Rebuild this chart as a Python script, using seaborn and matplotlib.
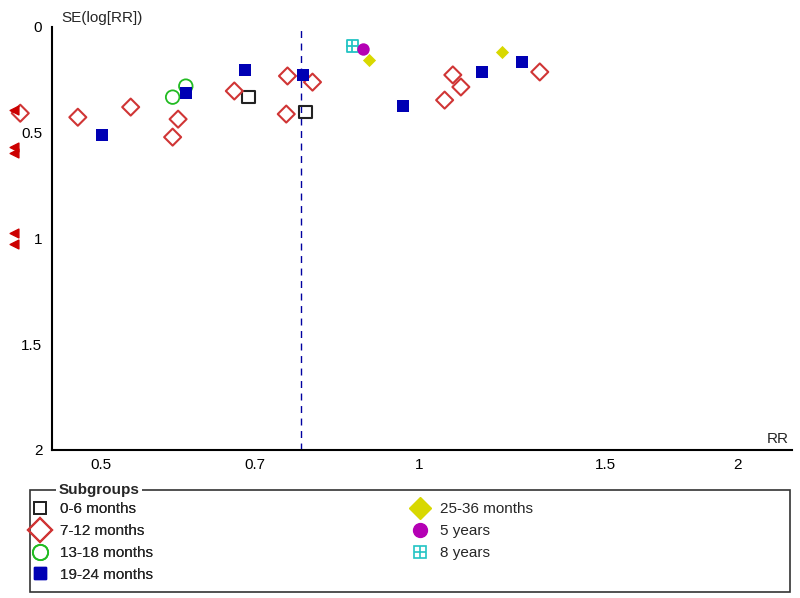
import matplotlib
matplotlib.use("Agg")
import matplotlib.pyplot as plt
import matplotlib.transforms as mtransforms
from matplotlib.lines import Line2D
from matplotlib.patches import Rectangle
from matplotlib.legend_handler import HandlerTuple
import seaborn as sns

# Datos (RR, SE(log[RR]))
rr_0_6 = [0.690, 0.781]
se_0_6 = [0.332, 0.403]

rr_7_12 = [0.420, 0.476, 0.534, 0.592, 0.585, 0.669, 0.751, 0.749, 0.793, 1.057, 1.076, 1.095, 1.300]
se_7_12 = [0.408, 0.427, 0.379, 0.436, 0.521, 0.303, 0.232, 0.412, 0.261, 0.346, 0.227, 0.284, 0.213]

rr_13_18 = [0.585, 0.602]
se_13_18 = [0.332, 0.280]

rr_19_24 = [0.502, 0.602, 0.684, 0.776, 0.965, 1.146, 1.250]
se_19_24 = [0.512, 0.313, 0.204, 0.227, 0.374, 0.213, 0.166]

rr_25_36 = [0.896, 1.197]
se_25_36 = [0.156, 0.118]

rr_5y = [0.886]
se_5y = [0.104]

rr_8y = [0.865]
se_8y = [0.090]

# estudios fuera de escala (flechas a la izquierda)
se_offscale = [0.393, 0.569, 0.597, 0.976, 1.024]

pooled_rr = 0.774

x_ticks = [0.5, 0.7, 1, 1.5, 2]
x_tick_labels = ["0.5", "0.7", "1", "1.5", "2"]
y_ticks = [0, 0.5, 1, 1.5, 2]
y_tick_labels = ["0", "0.5", "1", "1.5", "2"]

labels_col1 = ['0-6 months', '7-12 months', '13-18 months', '19-24 months']
labels_col2 = ['25-36 months', '5 years', '8 years']

sns.set_style("white")
plt.rcParams['font.family'] = ['Liberation Sans', 'DejaVu Sans']

fig = plt.figure(figsize=(8, 5.98), dpi=100)
ax = fig.add_axes([0.065, 0.2475, 0.925, 0.7075])

BLACK = '#222222'
RED = '#d03535'
GREEN = '#22bb22'
BLUE = '#0000b4'
YELLOW = '#d8d800'
MAGENTA = '#b400b4'
CYAN = '#22c4c4'

sns.scatterplot(x=rr_0_6, y=se_0_6, marker='s', s=80, facecolor='none', edgecolor=BLACK, linewidth=1.5, ax=ax, zorder=3)
sns.scatterplot(x=rr_7_12, y=se_7_12, marker='D', s=75, facecolor='none', edgecolor=RED, linewidth=1.5, ax=ax, zorder=3, clip_on=False)
sns.scatterplot(x=rr_13_18, y=se_13_18, marker='o', s=95, facecolor='none', edgecolor=GREEN, linewidth=1.3, ax=ax, zorder=3)
sns.scatterplot(x=rr_19_24, y=se_19_24, marker='s', s=65, color=BLUE, edgecolor=BLUE, linewidth=0, ax=ax, zorder=4)
sns.scatterplot(x=rr_25_36, y=se_25_36, marker='D', s=45, color=YELLOW, edgecolor=YELLOW, linewidth=0, ax=ax, zorder=3)
sns.scatterplot(x=rr_5y, y=se_5y, marker='o', s=80, color=MAGENTA, edgecolor=MAGENTA, linewidth=0, ax=ax, zorder=4)
sns.scatterplot(x=rr_8y, y=se_8y, marker='s', s=70, facecolor='none', edgecolor=CYAN, linewidth=1.3, ax=ax, zorder=3)
sns.scatterplot(x=rr_8y, y=se_8y, marker='+', s=70, color=CYAN, linewidth=1.3, ax=ax, zorder=3)

# flechas de estudios fuera de escala
trans = mtransforms.blended_transform_factory(ax.transAxes, ax.transData)
ax.scatter([-0.052] * len(se_offscale), se_offscale, marker='<', s=40, color='#cc0000',
           transform=trans, clip_on=False, zorder=5)

# línea del efecto combinado
ax.axvline(pooled_rr, color='#0000a0', linestyle=(0, (5, 4)), linewidth=1, zorder=1)

ax.set_xscale('log')
ax.set_xlim(0.45, 2.25)
ax.set_ylim(2, 0)
ax.set_xticks(x_ticks)
ax.set_xticklabels(x_tick_labels)
ax.minorticks_off()
ax.set_yticks(y_ticks)
ax.set_yticklabels(y_tick_labels)
ax.tick_params(axis='x', direction='in', length=8, width=1.2, labelsize=11, pad=6, colors='black')
ax.tick_params(axis='y', direction='inout', length=10, width=1.2, labelsize=11, pad=2, colors='black')
ax.set_xlabel('')
ax.set_ylabel('')
sns.despine(ax=ax)
for side in ['left', 'bottom']:
    ax.spines[side].set_color('black')
    ax.spines[side].set_linewidth(1.5)

ax.text(0.012, 1.005, 'SE(log[RR])', transform=ax.transAxes, fontsize=11, ha='left', va='bottom')
ax.text(0.995, 0.01, 'RR', transform=ax.transAxes, fontsize=11, ha='right', va='bottom')

# leyenda (dos columnas colocadas a mano dentro de un marco)
handles_col1 = [
    Line2D([], [], marker='s', ls='', ms=9, mfc='none', mec=BLACK, mew=1.3),
    Line2D([], [], marker='D', ls='', ms=12, mfc='none', mec=RED, mew=1.5),
    Line2D([], [], marker='o', ls='', ms=11, mfc='none', mec=GREEN, mew=1.3),
    Line2D([], [], marker='s', ls='', ms=9, mfc=BLUE, mec=BLUE),
]
handles_col2 = [
    Line2D([], [], marker='D', ls='', ms=11, mfc=YELLOW, mec=YELLOW),
    Line2D([], [], marker='o', ls='', ms=10, mfc=MAGENTA, mec=MAGENTA),
    (Line2D([], [], marker='s', ls='', ms=9, mfc='none', mec=CYAN, mew=1.2),
     Line2D([], [], marker='+', ls='', ms=9, mec=CYAN, mew=1.2)),
]
leg_kw = dict(loc='upper left', fontsize=11, frameon=False, handlelength=1.0,
              handletextpad=0.8, labelspacing=0.52, borderaxespad=0, borderpad=0,
              handler_map={tuple: HandlerTuple(ndivide=1, pad=0)})
leg1 = fig.legend(handles_col1, labels_col1, bbox_to_anchor=(0.041, 1 - 502 / 598), **leg_kw)
fig.add_artist(leg1)
fig.legend(handles_col2, labels_col2, bbox_to_anchor=(0.515, 1 - 502 / 598), **leg_kw)

fig.add_artist(Rectangle((30 / 800, 1 - 592 / 598), 760 / 800, 102 / 598,
                         transform=fig.transFigure, facecolor='none',
                         edgecolor='#333333', linewidth=1.2, zorder=1))
fig.text(0.073, 1 - 490 / 598, 'Subgroups', fontsize=11, fontweight='bold', ha='left',
         va='center', zorder=10, bbox=dict(facecolor='white', edgecolor='none', pad=2))

fig.savefig('out.png', dpi=100)
